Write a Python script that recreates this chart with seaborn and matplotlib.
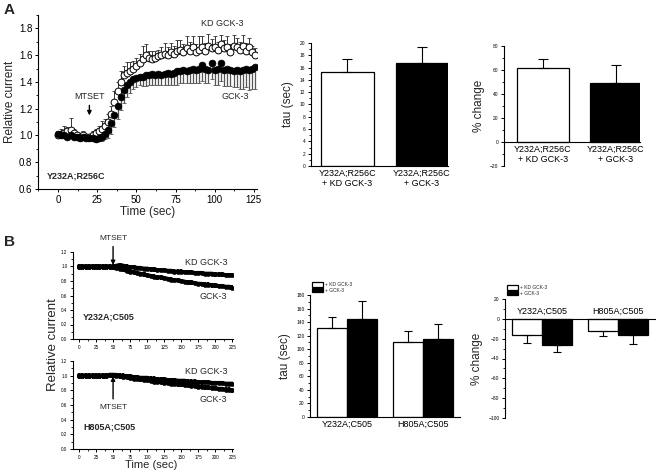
import numpy as np
import pandas as pd
import matplotlib
matplotlib.use("Agg")
import matplotlib.pyplot as plt
import seaborn as sns
from matplotlib.ticker import MultipleLocator, FixedLocator

# ---------------- data ----------------
# Panel A, time course (Y232A;R256C)
a_time = [0, 2, 4, 6, 8, 10, 12, 14, 16, 18, 20, 22, 24, 26, 28, 30, 32, 34, 36, 38,
          40, 42, 44, 46, 48, 50, 52, 54, 56, 58, 60, 62, 64, 66, 68, 70, 72, 74, 76, 78,
          80, 82, 84, 86, 88, 90, 92, 94, 96, 98, 100, 102, 104, 106, 108, 110, 112, 114,
          116, 118, 120, 122, 124, 126]
a_kd = [1.00, 1.01, 1.02, 1.03, 1.04, 1.02, 1.00, 0.99, 1.00, 0.99, 0.99, 1.00, 1.02, 1.03,
        1.05, 1.07, 1.10, 1.16, 1.25, 1.33, 1.40, 1.45, 1.47, 1.48, 1.50, 1.52, 1.54, 1.57,
        1.60, 1.58, 1.57, 1.58, 1.59, 1.60, 1.61, 1.60, 1.62, 1.61, 1.63, 1.64, 1.62, 1.65,
        1.63, 1.66, 1.62, 1.64, 1.66, 1.63, 1.67, 1.65, 1.66, 1.64, 1.68, 1.65, 1.66, 1.62,
        1.67, 1.66, 1.64, 1.67, 1.63, 1.66, 1.62, 1.60]
a_kd_err = [0.03, 0.04, 0.05, 0.03, 0.09, 0.03, 0.02, 0.02, 0.03, 0.02, 0.02, 0.03, 0.03, 0.04,
            0.06, 0.05, 0.06, 0.06, 0.08, 0.07, 0.08, 0.07, 0.08, 0.07, 0.06, 0.06, 0.07, 0.10,
            0.08, 0.05, 0.06, 0.05, 0.05, 0.06, 0.08, 0.06, 0.07, 0.06, 0.08, 0.07, 0.06, 0.09,
            0.07, 0.08, 0.06, 0.10, 0.08, 0.06, 0.09, 0.07, 0.08, 0.06, 0.07, 0.06, 0.08, 0.06,
            0.08, 0.07, 0.06, 0.08, 0.06, 0.07, 0.05, 0.05]
a_gck = [1.01, 1.00, 1.00, 0.99, 1.00, 0.99, 0.99, 0.98, 0.99, 0.98, 0.98, 0.98, 0.97, 0.98,
         0.99, 1.01, 1.04, 1.09, 1.15, 1.22, 1.29, 1.34, 1.38, 1.40, 1.42, 1.43, 1.44, 1.44,
         1.45, 1.45, 1.46, 1.45, 1.46, 1.45, 1.46, 1.47, 1.46, 1.47, 1.48, 1.48, 1.49, 1.48,
         1.49, 1.50, 1.49, 1.50, 1.53, 1.50, 1.49, 1.54, 1.49, 1.50, 1.54, 1.49, 1.50, 1.49,
         1.48, 1.49, 1.48, 1.49, 1.50, 1.49, 1.50, 1.51]
a_gck_err = [0.02, 0.02, 0.02, 0.02, 0.02, 0.02, 0.02, 0.02, 0.02, 0.02, 0.02, 0.02, 0.02, 0.02,
             0.03, 0.04, 0.06, 0.08, 0.09, 0.10, 0.10, 0.10, 0.09, 0.08, 0.07, 0.07, 0.06, 0.07,
             0.08, 0.07, 0.08, 0.07, 0.08, 0.07, 0.08, 0.09, 0.08, 0.09, 0.10, 0.09, 0.10, 0.09,
             0.10, 0.11, 0.10, 0.11, 0.12, 0.11, 0.10, 0.12, 0.11, 0.12, 0.13, 0.12, 0.13, 0.12,
             0.12, 0.13, 0.13, 0.14, 0.14, 0.15, 0.15, 0.16]

# Panel A bars
a_bar_labels = ["Y232A;R256C\n+ KD GCK-3", "Y232A;R256C\n+ GCK-3"]
a_tau = [15.3, 16.8]
a_tau_err = [2.1, 2.6]
a_pct = [62, 49]
a_pct_err = [7, 15]

# Panel B, time courses
b_time = [0, 5, 10, 15, 20, 25, 30, 35, 40, 45, 50, 55, 60, 65, 70, 75, 80, 85, 90, 95,
          100, 105, 110, 115, 120, 125, 130, 135, 140, 145, 150, 155, 160, 165, 170, 175,
          180, 185, 190, 195, 200, 205, 210, 215, 220, 225, 230]
b1_kd = [1.00, 1.00, 1.00, 1.00, 1.00, 1.00, 1.00, 1.00, 1.00, 1.00, 1.00,
         1.01, 1.02, 1.01, 1.00, 0.99, 0.99, 0.98, 0.98, 0.97, 0.97,
         0.96, 0.96, 0.95, 0.95, 0.95, 0.94, 0.94, 0.93, 0.93, 0.93,
         0.92, 0.92, 0.92, 0.91, 0.91, 0.91, 0.90, 0.90, 0.90, 0.89,
         0.89, 0.89, 0.88, 0.88, 0.88, 0.87]
b1_gck = [1.00, 1.00, 1.00, 1.00, 1.00, 1.00, 1.00, 1.00, 1.00, 1.00,
          0.99, 0.98, 0.97, 0.96, 0.94, 0.93, 0.92, 0.91, 0.90, 0.89, 0.88,
          0.87, 0.86, 0.85, 0.85, 0.84, 0.83, 0.82, 0.81, 0.81, 0.80,
          0.79, 0.78, 0.78, 0.77, 0.76, 0.76, 0.75, 0.75, 0.74, 0.74,
          0.73, 0.73, 0.72, 0.72, 0.71, 0.70]
b2_kd = [1.00, 1.00, 1.00, 1.00, 1.00, 1.00, 1.00, 1.00, 1.00,
         1.01, 1.01, 1.01, 1.00, 1.00, 0.99, 0.99, 0.98, 0.98, 0.97,
         0.97, 0.97, 0.96, 0.96, 0.95, 0.95, 0.95, 0.94, 0.94, 0.94,
         0.93, 0.93, 0.93, 0.92, 0.92, 0.92, 0.91, 0.91, 0.91, 0.91,
         0.90, 0.90, 0.90, 0.90, 0.89, 0.89, 0.89, 0.89]
b2_gck = [1.00, 1.00, 1.00, 1.00, 1.00, 1.00, 1.00, 1.00, 1.00,
          1.01, 1.01, 1.00, 0.99, 0.98, 0.98, 0.97, 0.96, 0.96, 0.95,
          0.94, 0.94, 0.93, 0.92, 0.92, 0.91, 0.90, 0.90, 0.89, 0.89,
          0.88, 0.88, 0.87, 0.87, 0.86, 0.86, 0.85, 0.85, 0.84, 0.84,
          0.83, 0.83, 0.82, 0.82, 0.81, 0.81, 0.80, 0.80]
b_err = 0.03

# Panel B bars
b_groups = ["Y232A;C505", "H805A;C505"]
b_conds = ["+ KD GCK-3", "+ GCK-3"]
b_tau = [[132, 110], [145, 115]]          # [cond][group]
b_tau_err = [[16, 17], [26, 22]]
b_pct = [[-16, -12.5], [-26.5, -16.5]]
b_pct_err = [[8, 5], [7, 8.5]]

# ---------------- style ----------------
sns.set_theme(style="ticks")
plt.rcParams["font.family"] = ["Liberation Sans", "DejaVu Sans"]
plt.rcParams["axes.linewidth"] = 0.8

W, H = 656, 472
fig = plt.figure(figsize=(W / 100, H / 100), dpi=100)
fig.patch.set_facecolor("white")


def px_axes(l, t, r, b):
    return fig.add_axes([l / W, 1 - b / H, (r - l) / W, (b - t) / H])


def style_axes(ax, fs):
    sns.despine(ax=ax)
    ax.set_facecolor("white")
    ax.tick_params(axis="both", which="major", direction="out", length=2.5, width=0.7,
                   labelsize=fs, pad=1.5, color="black", labelcolor="black")
    ax.tick_params(axis="both", which="minor", direction="out", length=1.5, width=0.6, color="black")
    for s in ax.spines.values():
        s.set_color("black")


# ---------------- Panel A main ----------------
ax = px_axes(38, 15, 257, 189)
zeros = [0] * len(a_time)
ax.errorbar(a_time, a_gck, yerr=[a_gck_err, zeros], fmt="none", ecolor="#555555",
            elinewidth=0.9, capsize=1.2, capthick=0.6, zorder=2)
ax.errorbar(a_time, a_kd, yerr=[zeros, a_kd_err], fmt="none", ecolor="#333333",
            elinewidth=0.7, capsize=1.2, capthick=0.6, zorder=2)
dfa = pd.DataFrame({"t": a_time * 2, "v": a_kd + a_gck,
                    "s": ["KD GCK-3"] * len(a_time) + ["GCK-3"] * len(a_time)})
sns.scatterplot(data=dfa[dfa.s == "KD GCK-3"], x="t", y="v", ax=ax, marker="o", s=24,
                facecolor="white", edgecolor="black", linewidth=0.7, zorder=3, legend=False)
sns.scatterplot(data=dfa[dfa.s == "GCK-3"], x="t", y="v", ax=ax, marker="o", s=24,
                color="black", edgecolor="black", linewidth=0.5, zorder=4, legend=False)
ax.set_xlim(-12.8, 127)
ax.set_ylim(0.6, 1.9)
ax.xaxis.set_major_locator(FixedLocator([0, 25, 50, 75, 100, 125]))
ax.xaxis.set_minor_locator(MultipleLocator(12.5))
ax.yaxis.set_major_locator(FixedLocator([0.6, 0.8, 1.0, 1.2, 1.4, 1.6, 1.8]))
ax.yaxis.set_minor_locator(MultipleLocator(0.1))
style_axes(ax, 7)
ax.set_xlabel("Time (sec)", fontsize=8.5, labelpad=1)
ax.set_ylabel("Relative current", fontsize=8.5, labelpad=2)
ax.text(105, 1.84, "KD GCK-3", fontsize=6.5, ha="center", va="center")
ax.text(113, 1.29, "GCK-3", fontsize=6.5, ha="center", va="center")
ax.text(-7, 0.70, "Y232A;R256C", fontsize=6.5, fontweight="bold", ha="left", va="center")
ax.annotate("MTSET", xy=(20, 1.15), xytext=(20, 1.26), fontsize=6.5, ha="center",
            va="bottom", arrowprops=dict(arrowstyle="-|>", color="black", lw=1,
                                         mutation_scale=6, shrinkA=1, shrinkB=0))
fig.text(4 / W, 1 - 10 / H, "A", fontsize=11, fontweight="bold", va="center")

# ---------------- Panel A tau ----------------
ax = px_axes(311, 43, 448, 166)
dft = pd.DataFrame({"cond": a_bar_labels, "tau": a_tau})
sns.barplot(data=dft, x="cond", y="tau", hue="cond", palette=["white", "black"],
            saturation=1, edgecolor="black", linewidth=0.9, width=0.71, legend=False, ax=ax)
ax.errorbar([0, 1], a_tau, yerr=[[0, 0], a_tau_err], fmt="none",
            ecolor="black", elinewidth=0.8, capsize=3.5, capthick=0.8, zorder=1)
ax.set_xlim(-0.49, 1.35)
ax.set_ylim(0, 20)
ax.yaxis.set_major_locator(MultipleLocator(2))
ax.yaxis.set_minor_locator(MultipleLocator(1))
style_axes(ax, 3.5)
ax.tick_params(axis="x", length=0, labelsize=6.5, pad=2)
ax.set_xlabel("")
ax.set_ylabel("tau (sec)", fontsize=8.5, labelpad=4)

# ---------------- Panel A % change ----------------
ax = px_axes(504, 46, 640, 166)
dfp = pd.DataFrame({"cond": a_bar_labels, "pct": a_pct})
sns.barplot(data=dfp, x="cond", y="pct", hue="cond", palette=["white", "black"],
            saturation=1, edgecolor="black", linewidth=0.9, width=0.71, legend=False, ax=ax)
ax.errorbar([0, 1], a_pct, yerr=[[0, 0], a_pct_err], fmt="none",
            ecolor="black", elinewidth=0.8, capsize=3.5, capthick=0.8, zorder=1)
ax.set_xlim(-0.53, 1.33)
ax.set_ylim(-20, 80)
ax.yaxis.set_major_locator(MultipleLocator(20))
ax.yaxis.set_minor_locator(MultipleLocator(10))
style_axes(ax, 3.5)
ax.spines["bottom"].set_position(("data", 0))
ax.tick_params(axis="x", length=0, labelsize=6.5, pad=2)
ax.set_xlabel("")
ax.set_ylabel("% change", fontsize=8.5, labelpad=4)

# ---------------- Panel B time courses ----------------
def time_panel(top, bottom, kd, gck, label, mtset_above, kd_y, gck_y):
    ax = px_axes(73, top, 233, bottom)
    for series in (gck, kd):
        ax.errorbar(b_time, series, yerr=b_err, fmt="none", ecolor="black",
                    elinewidth=1.6, capsize=0, zorder=2)
    dfb = pd.DataFrame({"t": b_time * 2, "v": kd + gck})
    sns.scatterplot(data=dfb, x="t", y="v", ax=ax, marker="o", s=10, color="black",
                    edgecolor="black", linewidth=0.3, zorder=3, legend=False)
    sns.lineplot(x=b_time, y=kd, ax=ax, color="black", linewidth=3.0, zorder=3)
    sns.lineplot(x=b_time, y=gck, ax=ax, color="black", linewidth=3.0, zorder=3)
    ax.set_xlim(-8.8, 226)
    ax.set_ylim(0, 1.2)
    ax.xaxis.set_major_locator(MultipleLocator(25))
    ax.xaxis.set_minor_locator(MultipleLocator(12.5))
    ax.yaxis.set_major_locator(MultipleLocator(0.2))
    ax.yaxis.set_minor_locator(MultipleLocator(0.1))
    ax.yaxis.set_major_formatter(matplotlib.ticker.FormatStrFormatter("%.1f"))
    style_axes(ax, 3.3)
    ax.set_xlabel("")
    ax.set_ylabel("")
    ax.text(187, kd_y, "KD GCK-3", fontsize=6.5, ha="center", va="center")
    ax.text(197, gck_y, "GCK-3", fontsize=6.5, ha="center", va="center")
    ax.text(6, 0.30, label, fontsize=6.5, fontweight="bold", ha="left", va="center")
    if mtset_above:
        ax.annotate("MTSET", xy=(50, 1.02), xytext=(50, 1.34), fontsize=6, ha="center",
                    va="bottom", annotation_clip=False,
                    arrowprops=dict(arrowstyle="-|>", color="black", lw=1,
                                    mutation_scale=6, shrinkA=1, shrinkB=0))
    else:
        ax.annotate("MTSET", xy=(50, 0.99), xytext=(50, 0.62), fontsize=6, ha="center",
                    va="top", arrowprops=dict(arrowstyle="-|>", color="black", lw=1,
                                              mutation_scale=6, shrinkA=1, shrinkB=0))
    return ax


ax1 = time_panel(252, 339, b1_kd, b1_gck, "Y232A;C505", True, 1.05, 0.58)
ax2 = time_panel(361, 449, b2_kd, b2_gck, "H805A;C505", False, 1.05, 0.67)
fig.text(53 / W, 1 - 345 / H, "Relative current", rotation=90, fontsize=9.5,
         ha="center", va="center")
fig.text(151 / W, 1 - 465 / H, "Time (sec)", fontsize=8, ha="center", va="center")
fig.text(4 / W, 1 - 242 / H, "B", fontsize=11, fontweight="bold", va="center")

# ---------------- Panel B tau ----------------
rows = []
for ci, c in enumerate(b_conds):
    for gi, g in enumerate(b_groups):
        rows.append({"group": g, "cond": c, "tau": b_tau[ci][gi], "pct": b_pct[ci][gi]})
dfg = pd.DataFrame(rows)

ax = px_axes(310, 295, 460, 417)
sns.barplot(data=dfg, x="group", y="tau", hue="cond", palette=["white", "black"],
            saturation=1, edgecolor="black", linewidth=0.9, width=0.8, ax=ax)
for ci in range(2):
    xs = [gi - 0.2 + 0.4 * ci for gi in range(2)]
    ax.errorbar(xs, b_tau[ci], yerr=[[0, 0], b_tau_err[ci]], fmt="none", ecolor="black",
                elinewidth=0.8, capsize=3, capthick=0.8, zorder=1)
ax.set_xlim(-0.49, 1.49)
ax.set_ylim(0, 180)
ax.yaxis.set_major_locator(MultipleLocator(20))
ax.yaxis.set_minor_locator(MultipleLocator(10))
style_axes(ax, 3.5)
ax.tick_params(axis="x", length=0, labelsize=6.5, pad=2)
ax.set_xlabel("")
ax.set_ylabel("tau (sec)", fontsize=8.5, labelpad=4)
ax.legend(loc="upper left", bbox_to_anchor=(312 / W, 1 - 282 / H),
          bbox_transform=fig.transFigure, frameon=False, fontsize=3.5,
          handlelength=2.3, handleheight=1.0, handletextpad=0.3, labelspacing=0.15,
          borderpad=0, borderaxespad=0)

# ---------------- Panel B % change ----------------
ax = px_axes(505, 299, 655, 418)
sns.barplot(data=dfg, x="group", y="pct", hue="cond", palette=["white", "black"],
            saturation=1, edgecolor="black", linewidth=0.9, width=0.8, ax=ax)
for ci in range(2):
    xs = [gi - 0.2 + 0.4 * ci for gi in range(2)]
    ax.errorbar(xs, b_pct[ci], yerr=[b_pct_err[ci], [0, 0]], fmt="none", ecolor="black",
                elinewidth=0.8, capsize=3, capthick=0.8, zorder=1)
ax.set_xlim(-0.49, 1.49)
ax.set_ylim(-100, 20)
ax.yaxis.set_major_locator(MultipleLocator(20))
ax.yaxis.set_minor_locator(MultipleLocator(10))
style_axes(ax, 3.5)
ax.spines["top"].set_visible(True)
ax.spines["top"].set_position(("data", 0))
ax.spines["top"].set_color("black")
ax.spines["bottom"].set_visible(False)
ax.xaxis.set_ticks_position("top")
ax.tick_params(axis="x", length=0, labelsize=6.5, pad=2)
ax.set_xlabel("")
ax.set_ylabel("% change", fontsize=8.5, labelpad=4)
ax.legend(loc="upper left", bbox_to_anchor=(507 / W, 1 - 285 / H),
          bbox_transform=fig.transFigure, frameon=False, fontsize=3.5,
          handlelength=2.3, handleheight=1.0, handletextpad=0.3, labelspacing=0.15,
          borderpad=0, borderaxespad=0)

fig.savefig("out.png", dpi=100, facecolor="white")
